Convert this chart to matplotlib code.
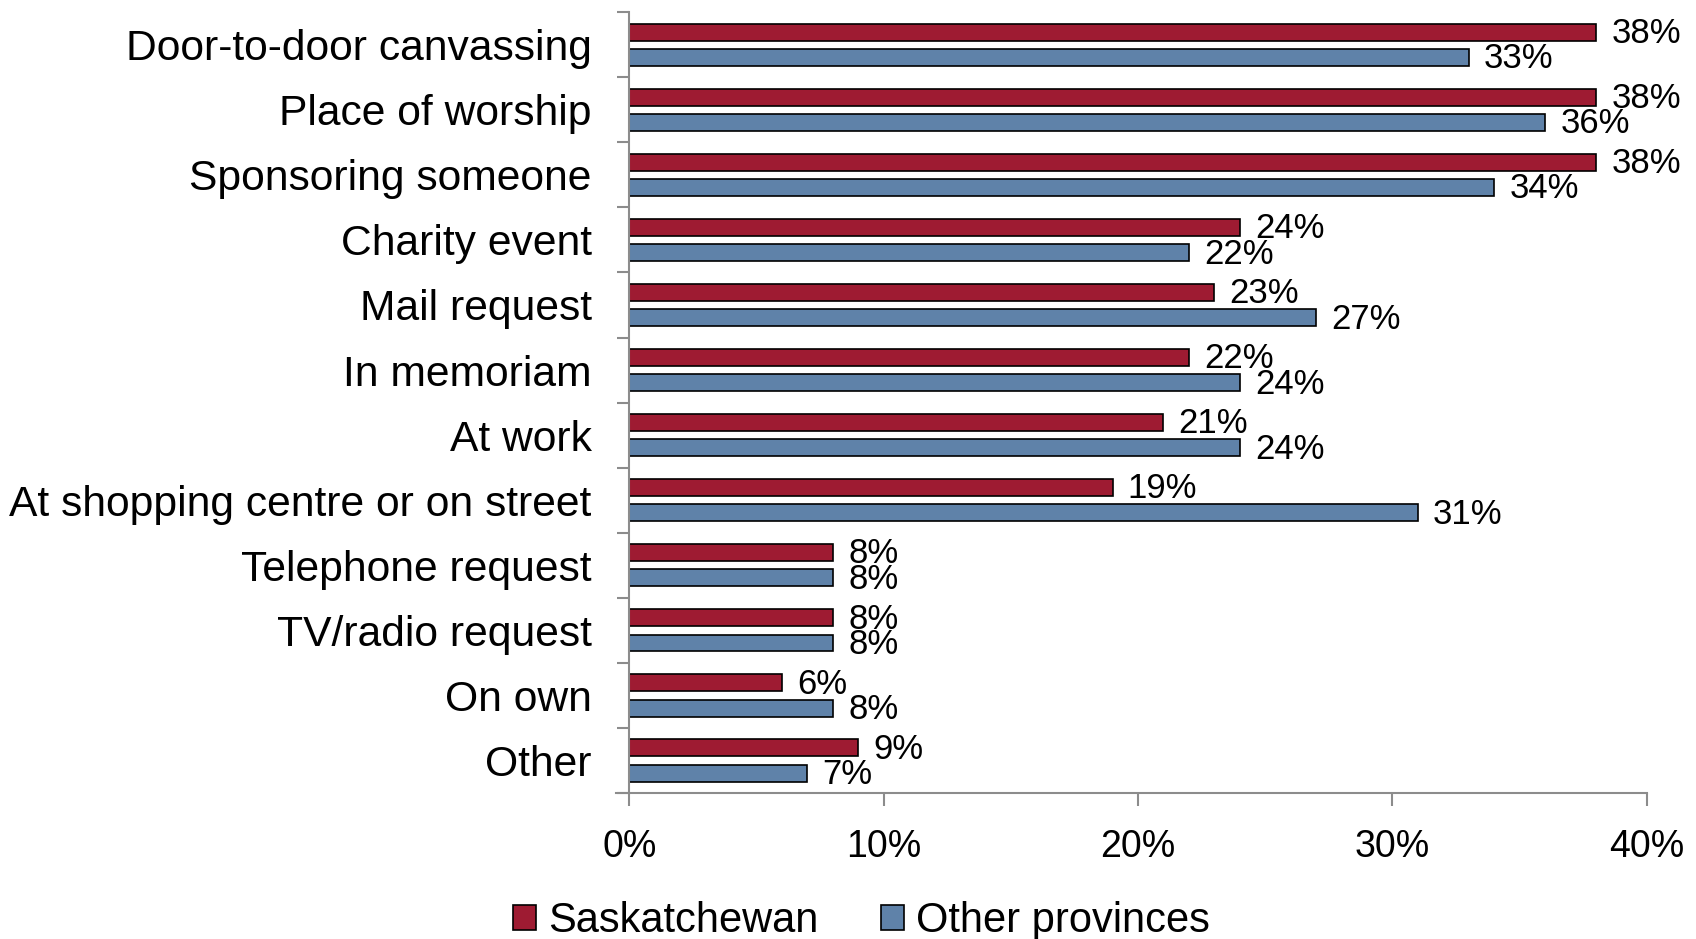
import matplotlib
matplotlib.use("Agg")
import matplotlib.pyplot as plt
import numpy as np

plt.rcParams['font.family'] = ['Liberation Sans', 'DejaVu Sans']

categories = ["Door-to-door canvassing", "Place of worship", "Sponsoring someone",
              "Charity event", "Mail request", "In memoriam", "At work",
              "At shopping centre or on street", "Telephone request",
              "TV/radio request", "On own", "Other"]
saskatchewan = [38, 38, 38, 24, 23, 22, 21, 19, 8, 8, 6, 9]
other_provinces = [33, 36, 34, 22, 27, 24, 24, 31, 8, 8, 8, 7]
x_ticks = [0, 10, 20, 30, 40]

red = '#9E1B32'
blue = '#5F82A9'
grey = '#8C8C8C'

fig = plt.figure(figsize=(16.96, 9.39), dpi=100)
ax = fig.add_axes([0.371, 0.1555, 0.6, 0.8315])

y = np.arange(len(categories))
h = 0.26
off = 0.195
b1 = ax.barh(y - off, saskatchewan, height=h, color=red, edgecolor='black',
             linewidth=1.2, label='Saskatchewan')
b2 = ax.barh(y + off, other_provinces, height=h, color=blue, edgecolor='black',
             linewidth=1.2, label='Other provinces')

# percentage next to each bar
for bars, vals in ((b1, saskatchewan), (b2, other_provinces)):
    for r, v in zip(bars, vals):
        ax.annotate(f"{v}%", (v, r.get_y() + r.get_height() / 2),
                    xytext=(11, -1), textcoords='offset points',
                    va='center', ha='left', fontsize=25)

ax.set_xlim(0, 40)
ax.set_ylim(len(categories) - 0.5, -0.5)
ax.set_xticks(x_ticks)
ax.set_xticklabels([f"{t}%" for t in x_ticks], fontsize=27)
# ticks between groups, labels centred on groups
ax.set_yticks(np.arange(len(categories) + 1) - 0.5, minor=False)
ax.set_yticklabels([])
ax.set_yticks(y, minor=True)
ax.set_yticklabels(categories, minor=True, fontsize=30.7)
ax.tick_params(axis='y', which='minor', length=0, pad=27)
ax.tick_params(axis='y', which='major', length=9, width=1.5, color=grey)
ax.tick_params(axis='x', length=9, width=1.5, color=grey, pad=17)

for s in ('top', 'right'):
    ax.spines[s].set_visible(False)
for s in ('left', 'bottom'):
    ax.spines[s].set_color(grey)
    ax.spines[s].set_linewidth(1.5)
ax.spines['bottom'].set_bounds(-0.5, 40)

fig.legend(handles=[b1, b2], loc='center', bbox_to_anchor=(0.508, 0.019),
           ncol=2, frameon=False, fontsize=30, handlelength=0.55,
           handleheight=0.55, handletextpad=0.3, columnspacing=1.5,
           borderpad=0)

fig.savefig('out.png', dpi=100)
